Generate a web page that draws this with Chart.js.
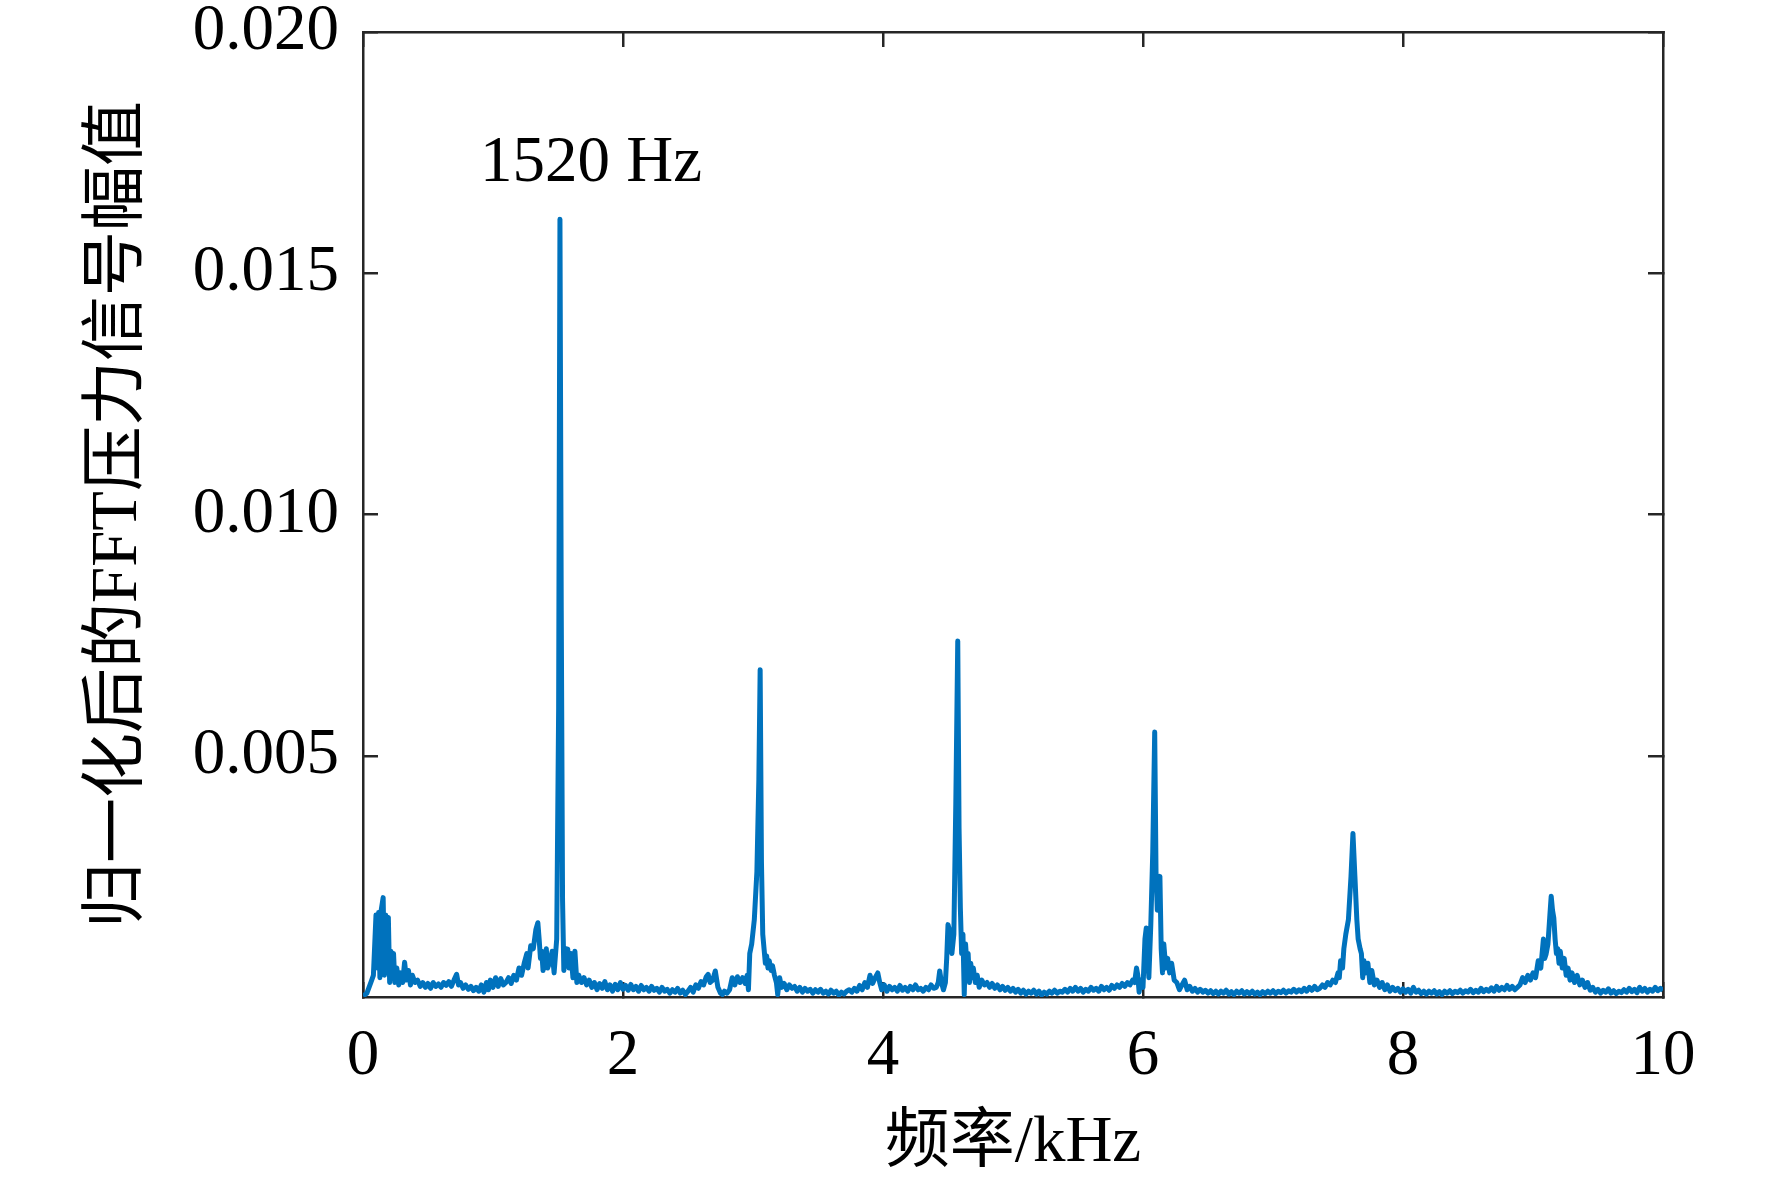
<!DOCTYPE html>
<html>
<head>
<meta charset="utf-8">
<title>FFT spectrum</title>
<script src="https://cdn.jsdelivr.net/npm/chart.js@4.4.1/dist/chart.umd.min.js"></script>
<style>
  html, body { margin: 0; padding: 0; background: #fff; overflow: hidden; }
  canvas { display: block; }
</style>
</head>
<body>
<canvas id="fft" width="1772" height="1183"></canvas>
<script>
// frequency (kHz) and normalised amplitude
const freqKHz = [
  0.00, 0.03, 0.06, 0.08, 0.10, 0.11, 0.12, 0.13, 0.14, 0.155,
  0.165, 0.175, 0.185, 0.195, 0.205, 0.215, 0.225, 0.235, 0.245, 0.26,
  0.275, 0.29, 0.305, 0.32, 0.335, 0.35, 0.365, 0.38, 0.40, 0.42,
  0.44, 0.46, 0.48, 0.50, 0.52, 0.54, 0.56, 0.58, 0.60, 0.62,
  0.64, 0.66, 0.68, 0.70, 0.72, 0.735, 0.75, 0.77, 0.79, 0.81,
  0.83, 0.85, 0.87, 0.89, 0.91, 0.93, 0.95, 0.965, 0.98, 1.00,
  1.02, 1.04, 1.06, 1.08, 1.10, 1.12, 1.14, 1.16, 1.18, 1.20,
  1.22, 1.24, 1.26, 1.27, 1.29, 1.31, 1.33, 1.345, 1.355, 1.365,
  1.375, 1.385, 1.395, 1.41, 1.42, 1.44, 1.455, 1.47, 1.49, 1.505,
  1.515, 1.525, 1.535, 1.545, 1.56, 1.575, 1.585, 1.60, 1.615, 1.63,
  1.645, 1.66, 1.68, 1.70, 1.72, 1.74, 1.76, 1.78, 1.80, 1.82,
  1.84, 1.86, 1.88, 1.90, 1.92, 1.94, 1.96, 1.98, 2.00, 2.02,
  2.04, 2.06, 2.08, 2.10, 2.12, 2.14, 2.16, 2.18, 2.20, 2.22,
  2.24, 2.26, 2.28, 2.30, 2.32, 2.34, 2.36, 2.38, 2.40, 2.42,
  2.44, 2.46, 2.48, 2.50, 2.52, 2.54, 2.56, 2.58, 2.60, 2.62,
  2.64, 2.655, 2.67, 2.69, 2.71, 2.73, 2.75, 2.765, 2.78, 2.80,
  2.82, 2.84, 2.86, 2.88, 2.90, 2.92, 2.94, 2.955, 2.965, 2.975,
  2.99, 3.01, 3.03, 3.045, 3.055, 3.065, 3.075, 3.085, 3.095, 3.105,
  3.115, 3.125, 3.14, 3.15, 3.165, 3.18, 3.19, 3.205, 3.22, 3.24,
  3.26, 3.28, 3.30, 3.32, 3.34, 3.36, 3.38, 3.40, 3.42, 3.44,
  3.46, 3.48, 3.50, 3.52, 3.54, 3.56, 3.58, 3.60, 3.62, 3.64,
  3.66, 3.68, 3.70, 3.72, 3.74, 3.76, 3.78, 3.80, 3.82, 3.84,
  3.86, 3.88, 3.90, 3.92, 3.94, 3.96, 3.975, 3.99, 4.01, 4.03,
  4.05, 4.07, 4.09, 4.11, 4.13, 4.15, 4.17, 4.19, 4.21, 4.23,
  4.25, 4.27, 4.29, 4.31, 4.33, 4.35, 4.37, 4.39, 4.41, 4.425,
  4.436, 4.45, 4.465, 4.48, 4.49, 4.50, 4.51, 4.52, 4.53, 4.545,
  4.56, 4.575, 4.585, 4.595, 4.605, 4.615, 4.625, 4.635, 4.645, 4.655,
  4.665, 4.675, 4.685, 4.695, 4.71, 4.725, 4.74, 4.76, 4.78, 4.80,
  4.82, 4.84, 4.86, 4.88, 4.90, 4.92, 4.94, 4.96, 4.98, 5.00,
  5.02, 5.04, 5.06, 5.08, 5.10, 5.12, 5.14, 5.16, 5.18, 5.20,
  5.22, 5.24, 5.26, 5.28, 5.30, 5.32, 5.34, 5.36, 5.38, 5.40,
  5.42, 5.44, 5.46, 5.48, 5.50, 5.52, 5.54, 5.56, 5.58, 5.60,
  5.62, 5.64, 5.66, 5.68, 5.70, 5.72, 5.74, 5.76, 5.78, 5.80,
  5.82, 5.84, 5.86, 5.88, 5.90, 5.92, 5.935, 5.95, 5.96, 5.97,
  5.985, 6.00, 6.015, 6.025, 6.035, 6.045, 6.06, 6.075, 6.09, 6.10,
  6.11, 6.13, 6.14, 6.15, 6.16, 6.175, 6.19, 6.205, 6.22, 6.24,
  6.26, 6.28, 6.30, 6.32, 6.34, 6.36, 6.38, 6.40, 6.42, 6.44,
  6.46, 6.48, 6.50, 6.52, 6.54, 6.56, 6.58, 6.60, 6.62, 6.64,
  6.66, 6.68, 6.70, 6.72, 6.74, 6.76, 6.78, 6.80, 6.82, 6.84,
  6.86, 6.88, 6.90, 6.92, 6.94, 6.96, 6.98, 7.00, 7.02, 7.04,
  7.06, 7.08, 7.10, 7.12, 7.14, 7.16, 7.18, 7.20, 7.22, 7.24,
  7.26, 7.28, 7.30, 7.32, 7.34, 7.36, 7.38, 7.40, 7.42, 7.44,
  7.46, 7.48, 7.50, 7.51, 7.52, 7.535, 7.545, 7.56, 7.58, 7.60,
  7.615, 7.63, 7.645, 7.655, 7.67, 7.68, 7.69, 7.70, 7.715, 7.73,
  7.745, 7.76, 7.78, 7.80, 7.82, 7.84, 7.86, 7.88, 7.90, 7.92,
  7.94, 7.96, 7.98, 8.00, 8.02, 8.04, 8.06, 8.08, 8.10, 8.12,
  8.14, 8.16, 8.18, 8.20, 8.22, 8.24, 8.26, 8.28, 8.30, 8.32,
  8.34, 8.36, 8.38, 8.40, 8.42, 8.44, 8.46, 8.48, 8.50, 8.52,
  8.54, 8.56, 8.58, 8.60, 8.62, 8.64, 8.66, 8.68, 8.70, 8.72,
  8.74, 8.76, 8.78, 8.80, 8.82, 8.84, 8.86, 8.88, 8.90, 8.92,
  8.94, 8.96, 8.98, 9.00, 9.02, 9.04, 9.06, 9.08, 9.09, 9.10,
  9.115, 9.13, 9.14, 9.15, 9.16, 9.17, 9.18, 9.19, 9.20, 9.21,
  9.225, 9.24, 9.255, 9.27, 9.285, 9.30, 9.32, 9.34, 9.36, 9.38,
  9.40, 9.42, 9.44, 9.46, 9.48, 9.50, 9.52, 9.54, 9.56, 9.58,
  9.60, 9.62, 9.64, 9.66, 9.68, 9.70, 9.72, 9.74, 9.76, 9.78,
  9.80, 9.82, 9.84, 9.86, 9.88, 9.90, 9.92, 9.94, 9.96, 9.98,
  10.00
];

const amplitude = [
  0.00002, 0.00008, 0.00030, 0.00045, 0.00170, 0.00060, 0.00175, 0.00040, 0.00180, 0.00206,
  0.00045, 0.00170, 0.00060, 0.00165, 0.00030, 0.00095, 0.00040, 0.00090, 0.00030, 0.00060,
  0.00025, 0.00050, 0.00030, 0.00072, 0.00035, 0.00055, 0.00025, 0.00045, 0.00030, 0.00035,
  0.00022, 0.00030, 0.00020, 0.00028, 0.00018, 0.00030, 0.00022, 0.00027, 0.00020, 0.00030,
  0.00024, 0.00032, 0.00022, 0.00035, 0.00047, 0.00025, 0.00030, 0.00018, 0.00025, 0.00016,
  0.00022, 0.00013, 0.00020, 0.00012, 0.00025, 0.00010, 0.00030, 0.00015, 0.00035, 0.00020,
  0.00040, 0.00022, 0.00038, 0.00025, 0.00030, 0.00040, 0.00028, 0.00045, 0.00035, 0.00060,
  0.00045, 0.00070, 0.00090, 0.00060, 0.00106, 0.00100, 0.00140, 0.00154, 0.00120, 0.00080,
  0.00095, 0.00055, 0.00070, 0.00100, 0.00060, 0.00075, 0.00095, 0.00050, 0.00120, 0.00600,
  0.01612, 0.00800, 0.00200, 0.00055, 0.00100, 0.00099, 0.00060, 0.00090, 0.00040, 0.00095,
  0.00030, 0.00045, 0.00030, 0.00040, 0.00025, 0.00035, 0.00020, 0.00030, 0.00015, 0.00028,
  0.00018, 0.00032, 0.00015, 0.00025, 0.00012, 0.00026, 0.00015, 0.00030, 0.00016, 0.00024,
  0.00014, 0.00026, 0.00015, 0.00022, 0.00012, 0.00024, 0.00015, 0.00020, 0.00012, 0.00022,
  0.00014, 0.00018, 0.00010, 0.00020, 0.00012, 0.00016, 0.00008, 0.00015, 0.00010, 0.00018,
  0.00008, 0.00014, 0.00005, 0.00012, 0.00020, 0.00010, 0.00025, 0.00018, 0.00032, 0.00025,
  0.00042, 0.00047, 0.00030, 0.00035, 0.00054, 0.00020, 0.00008, 0.00005, 0.00012, 0.00008,
  0.00015, 0.00040, 0.00025, 0.00042, 0.00030, 0.00040, 0.00028, 0.00045, 0.00015, 0.00090,
  0.00110, 0.00160, 0.00260, 0.00450, 0.00678, 0.00280, 0.00130, 0.00100, 0.00070, 0.00085,
  0.00060, 0.00075, 0.00055, 0.00065, 0.00045, 0.00030, 0.00005, 0.00040, 0.00020, 0.00028,
  0.00015, 0.00025, 0.00018, 0.00022, 0.00012, 0.00020, 0.00010, 0.00018, 0.00012, 0.00016,
  0.00008, 0.00015, 0.00010, 0.00016, 0.00008, 0.00012, 0.00006, 0.00014, 0.00008, 0.00012,
  0.00004, 0.00010, 0.00006, 0.00012, 0.00015, 0.00010, 0.00018, 0.00012, 0.00024, 0.00015,
  0.00030, 0.00020, 0.00045, 0.00028, 0.00040, 0.00050, 0.00030, 0.00015, 0.00025, 0.00012,
  0.00022, 0.00015, 0.00020, 0.00012, 0.00024, 0.00014, 0.00020, 0.00012, 0.00022, 0.00015,
  0.00025, 0.00015, 0.00018, 0.00012, 0.00020, 0.00015, 0.00025, 0.00018, 0.00020, 0.00030,
  0.00054, 0.00030, 0.00015, 0.00030, 0.00080, 0.00150, 0.00140, 0.00120, 0.00090, 0.00130,
  0.00400, 0.00738, 0.00350, 0.00185, 0.00090, 0.00130, 0.00005, 0.00110, 0.00070, 0.00090,
  0.00030, 0.00070, 0.00040, 0.00060, 0.00030, 0.00045, 0.00020, 0.00035, 0.00025, 0.00030,
  0.00020, 0.00028, 0.00018, 0.00025, 0.00015, 0.00022, 0.00014, 0.00020, 0.00012, 0.00018,
  0.00010, 0.00016, 0.00008, 0.00014, 0.00006, 0.00012, 0.00008, 0.00014, 0.00006, 0.00012,
  0.00004, 0.00010, 0.00006, 0.00012, 0.00008, 0.00014, 0.00008, 0.00012, 0.00010, 0.00016,
  0.00010, 0.00018, 0.00012, 0.00020, 0.00012, 0.00018, 0.00010, 0.00016, 0.00012, 0.00020,
  0.00014, 0.00018, 0.00012, 0.00022, 0.00015, 0.00020, 0.00014, 0.00024, 0.00018, 0.00025,
  0.00020, 0.00028, 0.00022, 0.00030, 0.00025, 0.00035, 0.00030, 0.00060, 0.00045, 0.00010,
  0.00035, 0.00020, 0.00120, 0.00143, 0.00090, 0.00040, 0.00150, 0.00300, 0.00549, 0.00260,
  0.00180, 0.00250, 0.00100, 0.00050, 0.00110, 0.00060, 0.00080, 0.00050, 0.00070, 0.00035,
  0.00030, 0.00015, 0.00025, 0.00035, 0.00015, 0.00022, 0.00012, 0.00018, 0.00010, 0.00016,
  0.00010, 0.00014, 0.00008, 0.00013, 0.00007, 0.00012, 0.00006, 0.00012, 0.00008, 0.00014,
  0.00006, 0.00011, 0.00005, 0.00012, 0.00008, 0.00013, 0.00006, 0.00011, 0.00007, 0.00012,
  0.00006, 0.00010, 0.00005, 0.00011, 0.00007, 0.00012, 0.00008, 0.00013, 0.00007, 0.00012,
  0.00009, 0.00014, 0.00008, 0.00013, 0.00010, 0.00016, 0.00010, 0.00015, 0.00011, 0.00018,
  0.00012, 0.00020, 0.00014, 0.00022, 0.00015, 0.00018, 0.00025, 0.00020, 0.00030, 0.00025,
  0.00035, 0.00030, 0.00050, 0.00040, 0.00075, 0.00060, 0.00100, 0.00130, 0.00160, 0.00250,
  0.00339, 0.00250, 0.00160, 0.00120, 0.00100, 0.00090, 0.00040, 0.00075, 0.00050, 0.00070,
  0.00030, 0.00055, 0.00025, 0.00035, 0.00020, 0.00030, 0.00015, 0.00025, 0.00012, 0.00020,
  0.00013, 0.00018, 0.00010, 0.00017, 0.00010, 0.00016, 0.00008, 0.00020, 0.00010, 0.00014,
  0.00007, 0.00012, 0.00006, 0.00012, 0.00008, 0.00013, 0.00006, 0.00011, 0.00005, 0.00012,
  0.00008, 0.00013, 0.00007, 0.00012, 0.00009, 0.00014, 0.00008, 0.00013, 0.00010, 0.00016,
  0.00009, 0.00014, 0.00010, 0.00018, 0.00011, 0.00016, 0.00012, 0.00019, 0.00012, 0.00022,
  0.00014, 0.00020, 0.00015, 0.00024, 0.00016, 0.00022, 0.00015, 0.00020, 0.00025, 0.00040,
  0.00030, 0.00045, 0.00035, 0.00050, 0.00040, 0.00075, 0.00060, 0.00120, 0.00080, 0.00088,
  0.00110, 0.00170, 0.00209, 0.00180, 0.00164, 0.00120, 0.00090, 0.00100, 0.00070, 0.00095,
  0.00060, 0.00080, 0.00045, 0.00060, 0.00035, 0.00050, 0.00030, 0.00045, 0.00025, 0.00035,
  0.00020, 0.00030, 0.00014, 0.00020, 0.00010, 0.00016, 0.00008, 0.00014, 0.00010, 0.00017,
  0.00008, 0.00013, 0.00007, 0.00012, 0.00009, 0.00015, 0.00010, 0.00018, 0.00011, 0.00016,
  0.00009, 0.00020, 0.00012, 0.00018, 0.00010, 0.00016, 0.00012, 0.00020, 0.00013, 0.00018,
  0.00014
];

const xTicks = [0, 2, 4, 6, 8, 10];
const yTicks = [0.005, 0.010, 0.015, 0.020];
const xTitle = '频率/kHz';
const yTitle = '归一化后的FFT压力信号幅值';
const peakLabel = '1520 Hz';
const peakLabelAt = [1.754, 0.01726];

const serif = "'Liberation Serif', 'Times New Roman', 'Noto Sans CJK SC', serif";
const axisColor = '#262626';
const lineColor = '#0072BD';
const fontSize = 65;

const tickValues = (list) => (scale) => {
  scale.ticks = list.map((v) => ({ value: v }));
};

// fix a scale's box size and drop the label overhang padding Chart.js adds
const fixedBox = (prop, size) => (scale) => {
  scale[prop] = size;
  scale.paddingTop = 0;
  scale.paddingBottom = 0;
  scale.paddingLeft = 0;
  scale.paddingRight = 0;
};

const axisGrid = {
  drawOnChartArea: false,
  drawTicks: true,
  tickLength: -15,
  color: axisColor,
  lineWidth: 2.5,
};
const axisBorder = { display: true, color: axisColor, width: 2.5 };

const peakLabelPlugin = {
  id: 'peakLabel',
  afterDatasetsDraw(chart) {
    const { ctx, scales: { x, y } } = chart;
    ctx.save();
    ctx.font = fontSize + 'px ' + serif;
    ctx.fillStyle = '#000';
    ctx.textAlign = 'center';
    ctx.textBaseline = 'middle';
    ctx.fillText(peakLabel, x.getPixelForValue(peakLabelAt[0]), y.getPixelForValue(peakLabelAt[1]));
    ctx.restore();
  },
};

new Chart(document.getElementById('fft'), {
  type: 'line',
  data: {
    datasets: [
      {
        data: freqKHz.map((f, i) => ({ x: f, y: amplitude[i] })),
        borderColor: lineColor,
        borderWidth: 5,
        borderJoinStyle: 'round',
        pointRadius: 0,
        tension: 0,
        fill: false,
        xAxisID: 'x',
        yAxisID: 'y',
      },
    ],
  },
  options: {
    responsive: false,
    animation: false,
    devicePixelRatio: 1,
    layout: { padding: 0 },
    plugins: {
      legend: { display: false },
      tooltip: { enabled: false },
    },
    scales: {
      x: {
        type: 'linear',
        position: 'bottom',
        min: 0,
        max: 10,
        afterBuildTicks: tickValues(xTicks),
        afterFit: fixedBox('height', 186),
        grid: axisGrid,
        border: axisBorder,
        ticks: {
          color: '#000',
          font: { size: fontSize, family: serif },
          padding: 36,
          maxRotation: 0,
          autoSkip: false,
          callback: (v) => String(v),
        },
        title: {
          display: true,
          text: xTitle,
          color: '#000',
          font: { size: fontSize, family: serif },
          padding: { top: 0, bottom: 0 },
        },
      },
      x2: {
        type: 'linear',
        position: 'top',
        min: 0,
        max: 10,
        afterBuildTicks: tickValues(xTicks),
        afterFit: fixedBox('height', 32),
        grid: axisGrid,
        border: axisBorder,
        ticks: { display: false },
      },
      y: {
        type: 'linear',
        position: 'left',
        min: 0,
        max: 0.02,
        afterBuildTicks: tickValues(yTicks),
        afterFit: fixedBox('width', 363),
        grid: axisGrid,
        border: axisBorder,
        ticks: {
          color: '#000',
          font: { size: fontSize, family: serif },
          padding: 39,
          callback: (v) => v.toFixed(3),
        },
        title: {
          display: true,
          text: yTitle,
          color: '#000',
          font: { size: fontSize, family: serif },
          padding: { top: 80, bottom: 0 },
        },
      },
      y2: {
        type: 'linear',
        position: 'right',
        min: 0,
        max: 0.02,
        afterBuildTicks: tickValues(yTicks),
        afterFit: fixedBox('width', 109),
        grid: axisGrid,
        border: axisBorder,
        ticks: { display: false },
      },
    },
  },
  plugins: [peakLabelPlugin],
});
</script>
</body>
</html>
